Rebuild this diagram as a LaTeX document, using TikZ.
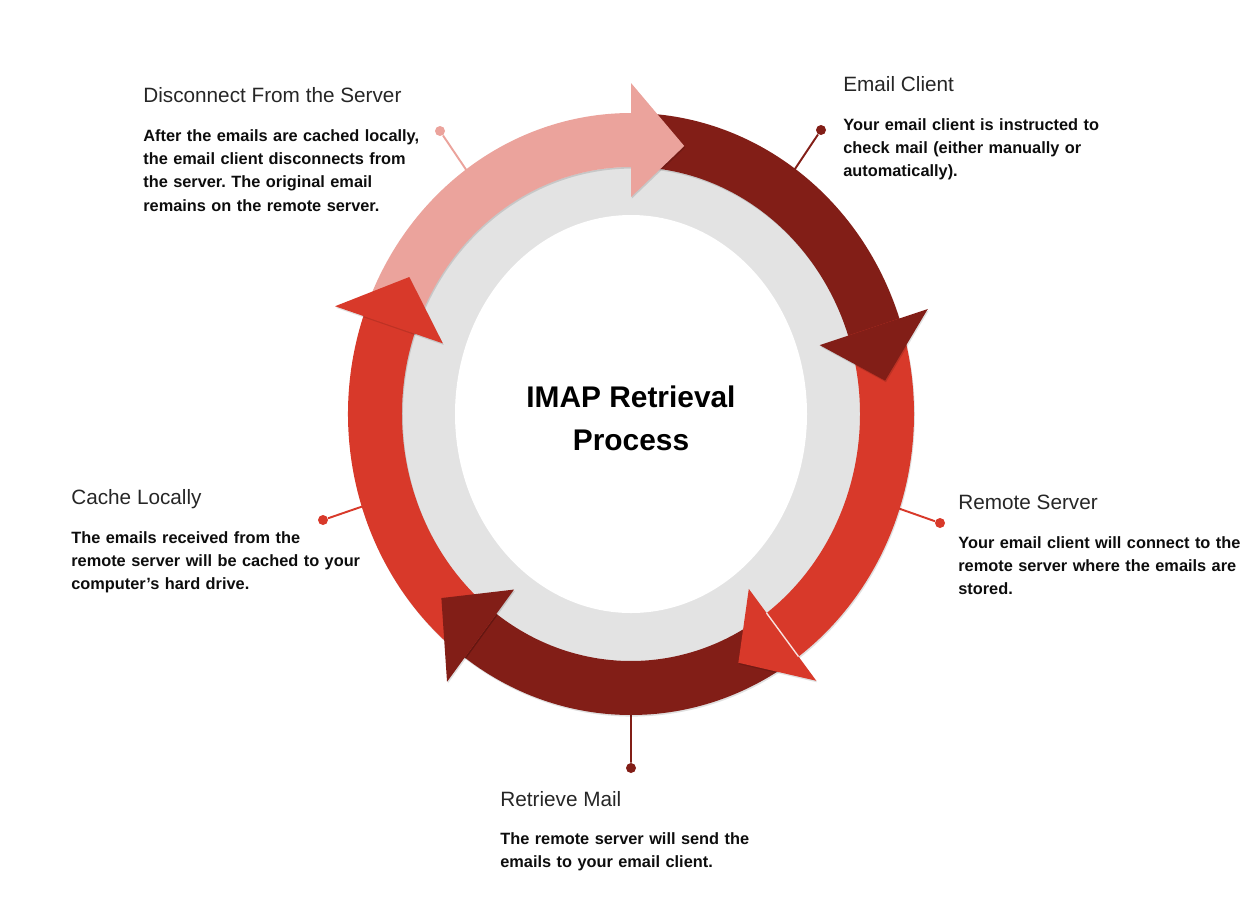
\documentclass[tikz,border=0pt]{standalone}
\usepackage{fontspec}
\setmainfont{Liberation Sans}
\usetikzlibrary{calc}
\frenchspacing

\definecolor{maroon}{RGB}{130,30,23}
\definecolor{brick}{RGB}{216,57,42}
\definecolor{salmon}{RGB}{235,163,156}
\definecolor{ringgray}{RGB}{227,227,227}

% one piece of the ring: colour, start angle, end angle
\newcommand{\band}[3]{%
  \fill[#1, shadowed] ($(ctr)+(#2:283 and 301)$) arc[start angle=#2, end angle=#3, x radius=283, y radius=301]
    -- ($(ctr)+(#3:229 and 247)$) arc[start angle=#3, end angle=#2, x radius=229, y radius=247] -- cycle;}
% the head of a piece: colour, base angle, tip angle
\newcommand{\arrowhead}[3]{%
  \fill[#1, shadowed] ($(ctr)+(#2:199 and 217)$) -- ($(ctr)+(#3:256 and 274)$) -- ($(ctr)+(#2:313 and 331)$) -- cycle;}

\begin{document}
\begin{tikzpicture}[x=0.02cm, y=-0.02cm,
    heading/.style={anchor=base west, inner sep=0pt, text=black!85, font=\fontsize{11.8}{14}\selectfont},
    body/.style={anchor=base west, inner sep=0pt, align=left, text width=6.5cm, text=black!95, font=\fontsize{9.3}{13.3}\selectfont\bfseries},
    pin/.style={line width=1.1pt},
    dot/.style={circle, inner sep=0pt, minimum size=0.2cm},
    shadowed/.style={preaction={fill=black, opacity=0.12, transform canvas={shift={(0.5pt,-0.9pt)}}}}]
    \useasboundingbox (0,0) rectangle (1250,923);
    \coordinate (ctr) at (631,414);

    % Pins from the labels to the ring
        \node[dot, fill=salmon] (discDot) at (440,131) {};
        \draw[pin, salmon] (discDot) -- ($(discDot)!0.25!(ctr)$);
        \node[dot, fill=maroon] (clientDot) at (821,130) {};
        \draw[pin, maroon] (clientDot) -- ($(clientDot)!0.25!(ctr)$);
        \node[dot, fill=brick] (serverDot) at (940,523) {};
        \draw[pin, brick] (serverDot) -- ($(serverDot)!0.25!(ctr)$);
        \node[dot, fill=maroon] (retrieveDot) at (631,768) {};
        \draw[pin, maroon] (retrieveDot) -- ($(retrieveDot)!0.25!(ctr)$);
        \node[dot, fill=brick] (cacheDot) at (323,520) {};
        \draw[pin, brick] (cacheDot) -- ($(cacheDot)!0.25!(ctr)$);

    % The gray disc
        \fill[ringgray] (ctr) ellipse [x radius=230, y radius=247];
        \fill[white] (ctr) ellipse [x radius=176, y radius=199];

    % The ring, clockwise from the left
        \band{salmon}{199}{271}
        \band{maroon}{270}{342.5}
        \band{brick}{341.5}{414.7}
        \band{maroon}{53.7}{127}
        \band{brick}{126}{200}
        \arrowhead{salmon}{270}{282}
        \arrowhead{maroon}{341.5}{353}
        \arrowhead{brick}{53.7}{65.2}
        \draw[white!85!brick, line width=0.8pt] ($(ctr)+(53.7:229 and 247)$) -- ($(ctr)+(53.7:283 and 301)$);
        \arrowhead{maroon}{126}{137.8}
        \arrowhead{brick}{199}{210}

    \node[font=\fontsize{17}{24.5}\selectfont\bfseries, align=center] (title) at (631,418) {IMAP Retrieval\\Process};

    % Labels
        \node[heading] (discHead) at (143,102) {Disconnect From the Server};
        \node[body] (discBody) at (143,141) {After the emails are cached locally,\\the email client disconnects from\\the server. The original email\\remains on the remote server.};
        \node[heading] (clientHead) at (843,91) {Email Client};
        \node[body] (clientBody) at (843,130) {Your email client is instructed to\\check mail (either manually or\\automatically).};
        \node[heading] (serverHead) at (958,509) {Remote Server};
        \node[body] (serverBody) at (958,548) {Your email client will connect to the\\remote server where the emails are\\stored.};
        \node[heading] (retrieveHead) at (500,806) {Retrieve Mail};
        \node[body] (retrieveBody) at (500,844) {The remote server will send the\\emails to your email client.};
        \node[heading] (cacheHead) at (71,504) {Cache Locally};
        \node[body] (cacheBody) at (71,543) {The emails received from the\\remote server will be cached to your\\computer’s hard drive.};
\end{tikzpicture}
\end{document}
